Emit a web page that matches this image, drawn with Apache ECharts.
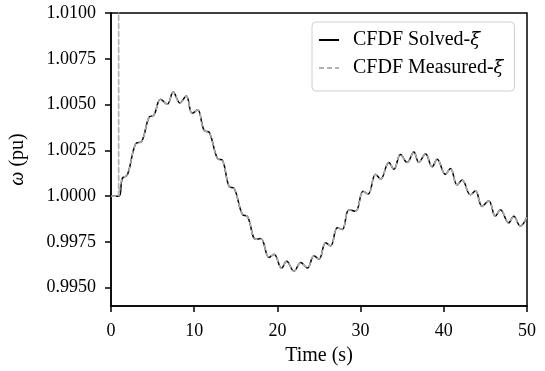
<!DOCTYPE html>
<html>
<head>
<meta charset="utf-8">
<script src="https://cdn.jsdelivr.net/npm/echarts@6/dist/echarts.min.js"></script>
<style>
  html, body { margin: 0; padding: 0; background: #fff; }
  #chart { width: 545px; height: 371px; }
</style>
</head>
<body>
<div id="chart"></div>
<script>
// time (s) and rotor speed (pu) at peaks / dips
const timeS = [0, 0.95, 1.36, 1.96, 2.96, 3.7, 4.56, 5.16, 5.96, 6.76, 7.48, 8.28, 9.04, 9.76, 10.4,
  11.2, 11.8, 12.8, 13.4, 14.2, 14.8, 15.8, 16.4, 17.4, 18.0, 19.0, 19.6, 20.5, 21.1, 22.0, 22.8,
  23.6, 24.4, 25.0, 25.8, 26.4, 27.2, 27.8, 28.6, 29.4, 30.3, 30.9, 31.8, 32.4, 33.4, 34.0, 34.8,
  35.6, 36.4, 37.0, 37.8, 38.6, 39.2, 40.2, 40.8, 41.6, 42.2, 43.2, 43.8, 44.6, 45.4, 46.2, 46.8,
  47.8, 48.4, 49.2, 50.0];
const omegaSolved = [1.0000, 1.0000, 1.00097, 1.00115, 1.00286, 1.00299, 1.00430, 1.00443, 1.00529,
  1.00502, 1.00569, 1.00508, 1.00547, 1.00452, 1.00471, 1.00358, 1.00349, 1.00205, 1.00196, 1.00052,
  1.00043, 0.99899, 0.99890, 0.99764, 0.99769, 0.99665, 0.99683, 0.99606, 0.99644, 0.99590, 0.99638,
  0.99607, 0.99674, 0.99656, 0.99746, 0.99728, 0.99827, 0.99818, 0.99926, 0.99917, 1.00027, 1.00011,
  1.00119, 1.00093, 1.00184, 1.00147, 1.00227, 1.00184, 1.00241, 1.00184, 1.00232, 1.00160, 1.00201,
  1.00119, 1.00151, 1.00061, 1.00088, 1.00007, 1.00029, 0.99944, 0.99975, 0.99890, 0.99926, 0.99854,
  0.99890, 0.99836, 0.99887];
// measured signal has a spike at the fault instant
const spikeT = [0.9, 0.92, 0.95];
const spikeW = [1.0000, 1.0200, 1.0000];
const yTicks = [0.9950, 0.9975, 1.0000, 1.0025, 1.0050, 1.0075, 1.0100];

const font = 'Liberation Serif';
const solved = timeS.map((t, i) => [t, omegaSolved[i]]);
const measured = [];
timeS.forEach((t, i) => {
  if (t === 0.95) spikeT.forEach((st, j) => measured.push([st, spikeW[j]]));
  else measured.push([t, omegaSolved[i]]);
});

const italic = { fontFamily: 'DejaVu Serif', fontSize: 18, fontStyle: 'italic', color: '#000' };

const chart = echarts.init(document.getElementById('chart'));
chart.setOption({
  animation: false,
  grid: {
    left: 110, right: 18, top: 13, bottom: 62,
    show: true, borderColor: '#000', borderWidth: 1.5
  },
  legend: {
    orient: 'vertical',
    left: 312, top: 22,
    padding: [8, 11, 13, 6],
    itemGap: 8,
    itemWidth: 20, itemHeight: 12,
    backgroundColor: '#fff',
    borderColor: '#d0d0d0', borderWidth: 1, borderRadius: 4,
    itemStyle: { opacity: 0 },
    textStyle: {
      fontFamily: font, fontSize: 20, color: '#000', padding: [0, 0, 0, 9],
      rich: { i: italic }
    },
    formatter: name => name.replace('ξ̄', '{i|ξ̄}')
  },
  xAxis: {
    type: 'value', min: 0, max: 50, interval: 10,
    name: 'Time (s)', nameLocation: 'middle', nameGap: 40,
    nameTextStyle: { fontFamily: font, fontSize: 20, color: '#000' },
    axisLine: { lineStyle: { color: '#000', width: 1.5 } },
    axisTick: { length: 6, lineStyle: { color: '#000', width: 1.5 } },
    axisLabel: { margin: 16, fontFamily: font, fontSize: 18, color: '#000' },
    splitLine: { show: false }
  },
  yAxis: {
    type: 'value', min: 0.994, max: 1.01,
    name: '{i|ω} (pu)', nameLocation: 'middle', nameGap: 83, nameRotate: 90,
    nameTextStyle: {
      fontFamily: font, fontSize: 20, color: '#000',
      rich: { i: { fontFamily: font, fontSize: 20, fontStyle: 'italic', color: '#000' } }
    },
    axisLine: { lineStyle: { color: '#000', width: 1.5 } },
    axisTick: { length: 6, customValues: yTicks, lineStyle: { color: '#000', width: 1.5 } },
    axisLabel: {
      margin: 15, fontFamily: font, fontSize: 18, color: '#000',
      customValues: yTicks, formatter: v => v.toFixed(4)
    },
    splitLine: { show: false }
  },
  series: [
    {
      name: 'CFDF Solved-ξ̄', type: 'line', data: solved,
      showSymbol: false, symbol: 'none', smooth: 0.4,
      lineStyle: { color: '#000', width: 1.5 }, itemStyle: { color: '#000' }
    },
    {
      name: 'CFDF Measured-ξ̄', type: 'line', data: measured,
      showSymbol: false, symbol: 'none', smooth: 0.4,
      lineStyle: { color: '#b0b0b0', width: 1.5, type: [5, 3] }, itemStyle: { color: '#b0b0b0' }
    }
  ]
});
</script>
</body>
</html>
